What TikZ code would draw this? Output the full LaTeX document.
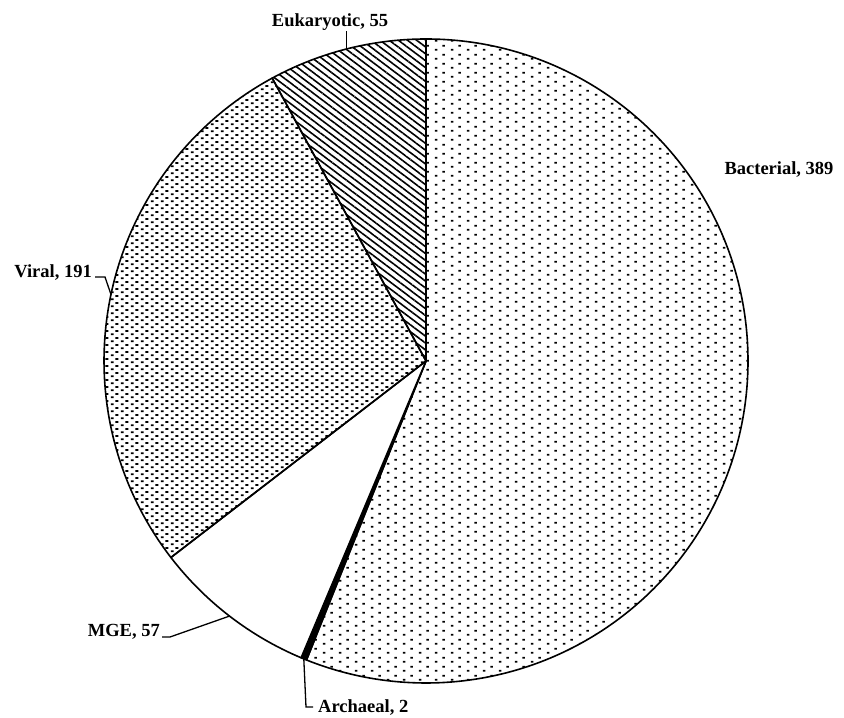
\documentclass[tikz,border=0pt]{standalone}
\usepackage{fontspec}
\setmainfont{Liberation Serif}
\usetikzlibrary{patterns.meta,calc}

\tikzdeclarepattern{
  name=bactdots, type=uncolored,
  bounding box={(0,0) and (16pt,9pt)},
  tile size={(16pt,9pt)},
  code={
    \fill (3pt,1.4pt) rectangle ++(2.6pt,2.1pt);
    \fill (11pt,5.9pt) rectangle ++(2.6pt,2.1pt);
  }
}
\tikzdeclarepattern{
  name=virdots, type=uncolored,
  bounding box={(0,0) and (10pt,7.2pt)},
  tile size={(10pt,7.2pt)},
  code={
    \fill (1pt,1pt) rectangle ++(3.1pt,1.8pt);
    \fill (6pt,4.6pt) rectangle ++(3.1pt,1.8pt);
  }
}

\begin{document}
\begin{tikzpicture}[x=1pt,y=1pt,
  lbl/.style={font=\fontsize{18.5}{21}\selectfont\bfseries, inner sep=0pt},
  slice/.style={draw=black, line width=1.6pt, line join=round},
  leader/.style={draw=black, line width=1.3pt}]
\fill[white] (0,0) rectangle (844,718);
\useasboundingbox (0,0) rectangle (844,718);
\coordinate (C) at (426,357);
% slices
\draw[slice, pattern=bactdots] (C) -- ++(90:322) arc[start angle=90, end angle=-111.787, radius=322] -- cycle;
\draw[slice, fill=black] (C) -- ++(-111.787:322) arc[start angle=-111.787, end angle=-112.824, radius=322] -- cycle;
\draw[slice, fill=white] (C) -- ++(-112.824:322) arc[start angle=-112.824, end angle=-142.392, radius=322] -- cycle;
\draw[slice, pattern=virdots] (C) -- ++(-142.392:322) arc[start angle=-142.392, end angle=-241.470, radius=322] -- cycle;
\draw[slice, pattern={Lines[angle=-37,distance=5.5pt,line width=1.6pt]}] (C) -- ++(-241.470:322) arc[start angle=-241.470, end angle=-270, radius=322] -- cycle;
% arc points for leaders
\coordinate (eukarc) at ($(C)+(104.265:322)$);
\coordinate (virarc) at ($(C)+(-191.931:322)$);
\coordinate (mgearc) at ($(C)+(-127.608:322)$);
\coordinate (arcarc) at ($(C)+(-112.306:322)$);
% labels
\node[lbl] (eukl) at (330,696) {Eukaryotic, 55};
\node[lbl] (bacl) at (779,548) {Bacterial, 389};
\node[lbl, anchor=east] (virl) at (92,445) {Viral, 191};
\node[lbl, anchor=east] (mgel) at (160,86) {MGE, 57};
\node[lbl, anchor=west] (archl) at (318,10) {Archaeal, 2};
% leaders
\coordinate (eukk) at (eukarc |- 0,687);
\draw[leader] (eukarc) -- (eukk);
\coordinate (virk) at (105,441);
\draw[leader] ($(virl.east)+(3,-4)$) -- (virk) -- (virarc);
\coordinate (mgek) at (170,81);
\draw[leader] ($(mgel.east)+(2,-5)$) -- (mgek) -- (mgearc);
\coordinate (arck) at (306,11);
\draw[leader] (arcarc) -- (arck) -- ($(archl.west)+(-5,1)$);
\end{tikzpicture}
\end{document}
